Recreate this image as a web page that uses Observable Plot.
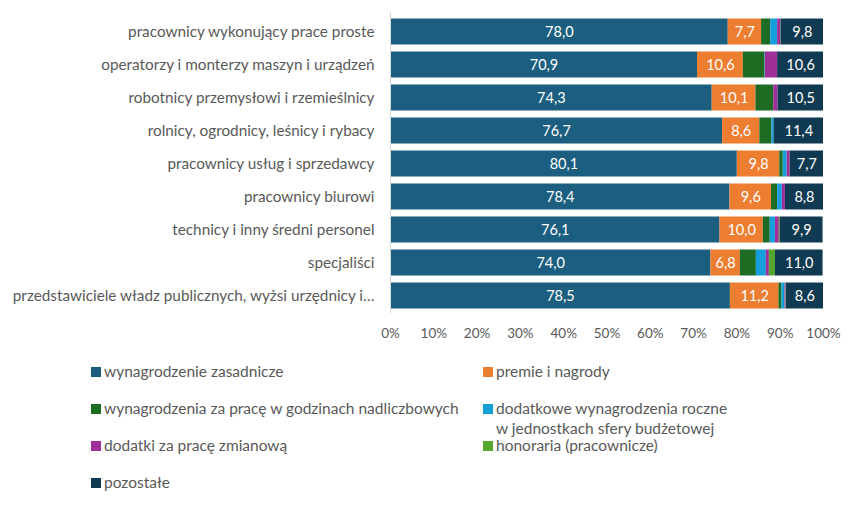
<!DOCTYPE html>
<html><head><meta charset="utf-8">
<script src="https://cdn.jsdelivr.net/npm/d3@7"></script>
<script src="https://cdn.jsdelivr.net/npm/@observablehq/plot@0.6"></script>
<style>
body{margin:0;background:#fff;font-family:Lato,sans-serif;}
#wrap{position:relative;width:852px;height:516px;}
.leg{position:absolute;font-size:15.5px;color:#595959;line-height:20px;white-space:nowrap;}
.sw{position:absolute;width:10px;height:10px;}
</style></head>
<body><div id="wrap"></div>
<script>
const categories = [
  "pracownicy wykonujący prace proste",
  "operatorzy i monterzy maszyn i urządzeń",
  "robotnicy przemysłowi i rzemieślnicy",
  "rolnicy, ogrodnicy, leśnicy i rybacy",
  "pracownicy usług i sprzedawcy",
  "pracownicy biurowi",
  "technicy i inny średni personel",
  "specjaliści",
  "przedstawiciele władz publicznych, wyżsi urzędnicy i…"
];
const seriesNames = [
  "wynagrodzenie zasadnicze",
  "premie i nagrody",
  "wynagrodzenia za pracę w godzinach nadliczbowych",
  "dodatkowe wynagrodzenia roczne w jednostkach sfery budżetowej",
  "dodatki za pracę zmianową",
  "honoraria (pracownicze)",
  "pozostałe"
];
const colors = ["#1b5e80","#ed7d31","#1e6b24","#149fda","#a02f9a","#54a62f","#0f3a52"];
const zasadnicze   = [78.0, 70.9, 74.3, 76.7, 80.1, 78.4, 76.1, 74.0, 78.5];
const premie       = [7.7, 10.6, 10.1, 8.6, 9.8, 9.6, 10.0, 6.8, 11.2];
const nadliczbowe  = [2.1, 5.0, 4.1, 2.8, 0.8, 1.4, 1.6, 3.7, 0.7];
const roczne       = [1.6, 0.1, 0.0, 0.5, 0.9, 1.1, 1.2, 2.3, 0.7];
const zmianowe     = [0.7, 2.8, 1.0, 0.0, 0.7, 0.7, 0.9, 0.7, 0.2];
const honoraria    = [0.1, 0.0, 0.0, 0.0, 0.0, 0.0, 0.2, 1.4, 0.1];
const pozostale    = [9.8, 10.6, 10.5, 11.4, 7.7, 8.8, 9.9, 11.0, 8.6];
const xTicks = [0,10,20,30,40,50,60,70,80,90,100];
const labelled = ["wynagrodzenie zasadnicze","premie i nagrody","pozostałe"];

const seriesValues = [zasadnicze, premie, nadliczbowe, roczne, zmianowe, honoraria, pozostale];
const data = [];
categories.forEach((c, i) => seriesValues.forEach((arr, s) => data.push({cat: c, series: seriesNames[s], value: arr[i]})));
const fmt = v => v.toFixed(1).replace(".", ",");

const chart = Plot.plot({
  width: 852, height: 345,
  marginLeft: 390, marginRight: 29, marginTop: 14, marginBottom: 32,
  style: {fontFamily: "Lato, sans-serif", color: "#595959", background: "transparent"},
  x: {domain: [0, 100], label: null},
  y: {domain: categories, label: null, padding: 0},
  color: {domain: seriesNames, range: colors},
  marks: [
    Plot.barX(data, Plot.stackX({x: "value", y: "cat", fill: "series", order: seriesNames, insetTop: 3.5, insetBottom: 3.5})),
    Plot.ruleX([0], {stroke: "#d9d9d9", insetTop: -2}),
    Plot.axisX({ticks: xTicks, tickFormat: d => d + "%", tickSize: 0, tickPadding: 15, fontSize: 13.5, fill: "#595959", label: null}),
    Plot.axisY({tickSize: 0, tickPadding: 16, fontSize: 15.3, fill: "#595959", label: null}),
    Plot.text(data, Plot.stackX({x: "value", y: "cat", z: "series", order: seriesNames,
      text: d => labelled.includes(d.series) ? fmt(d.value) : "", fill: "white", fontSize: 14.5}))
  ]
});
chart.style.position = "absolute"; chart.style.left = "0px"; chart.style.top = "0px";
const wrap = document.getElementById("wrap");
wrap.appendChild(chart);

const legendPos = [[91,372],[483,372],[91,409],[483,409],[91,446],[483,446],[91,483]];
const legendText = [
  "wynagrodzenie zasadnicze","premie i nagrody",
  "wynagrodzenia za pracę w godzinach nadliczbowych",
  "dodatkowe wynagrodzenia roczne<br>w jednostkach sfery budżetowej",
  "dodatki za pracę zmianową","honoraria (pracownicze)","pozostałe"
];
legendPos.forEach(([x,y], i) => {
  const sw = document.createElement("div");
  sw.className = "sw"; sw.style.left = x + "px"; sw.style.top = (y - 5) + "px"; sw.style.background = colors[i];
  wrap.appendChild(sw);
  const t = document.createElement("div");
  t.className = "leg"; t.style.left = (x + 13) + "px"; t.style.top = (y - 11) + "px"; t.innerHTML = legendText[i];
  wrap.appendChild(t);
});
</script></body></html>
